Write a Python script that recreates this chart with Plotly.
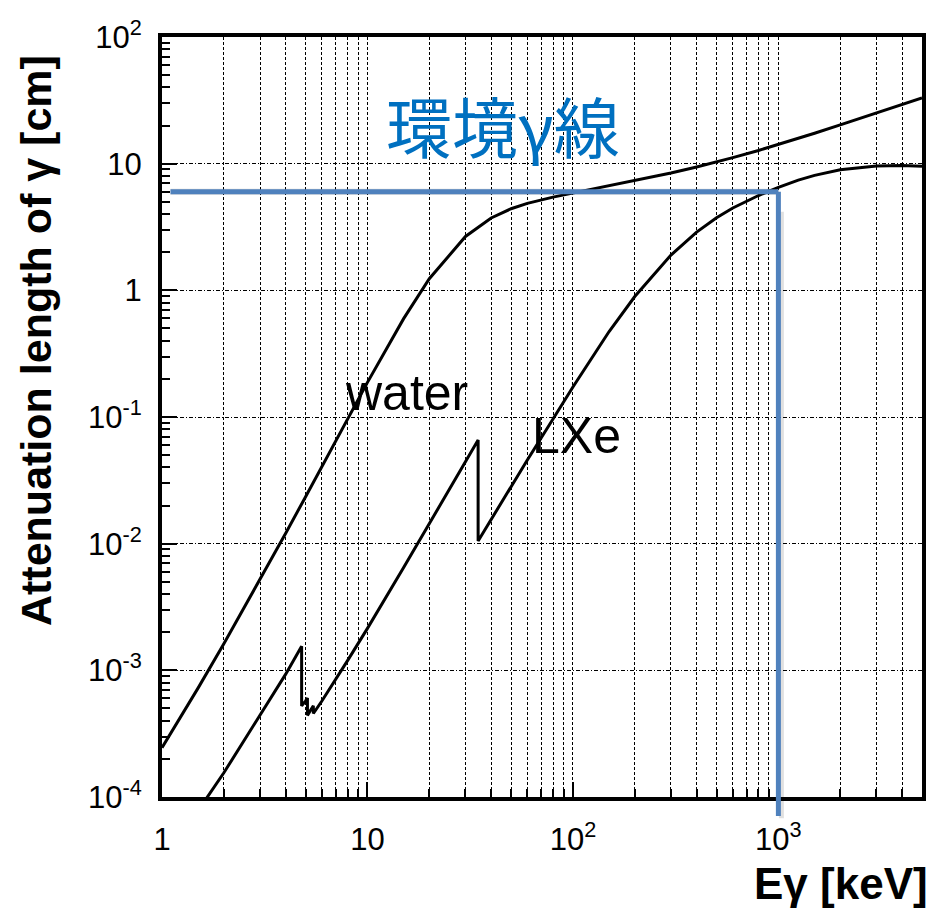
import plotly.graph_objects as go

# ---- data (attenuation length in cm) ----
water_E = [1.0, 1.5, 2.0, 3.0, 4.0, 5.0, 6.0, 8.0, 10, 15, 20, 30, 40, 50, 60, 80,
           100, 150, 200, 300, 400, 500, 600, 800, 1000, 1250, 1500, 2000, 3000, 4000, 5000]
water_L = [2.452e-4, 7.27e-4, 1.620e-3, 5.18e-3, 0.01208, 0.02349, 0.04058, 0.09643,
           0.1877, 0.5977, 1.235, 2.662, 3.727, 4.407, 4.857, 5.444,
           5.858, 6.645, 7.299, 8.432, 9.425, 10.32, 11.17, 12.71, 14.14, 15.82,
           17.38, 20.23, 25.20, 29.39, 32.99]

lxe_E = [1.0, 1.5, 2.0, 3.0, 4.0, 4.782, 4.782, 5.0, 5.104, 5.104, 5.278, 5.453, 5.453,
         6.0, 8.0, 10, 15, 20, 30, 34.56, 34.56, 40, 50, 60, 80, 100, 150, 200, 300,
         400, 500, 600, 800, 1000, 1250, 1500, 2000, 3000, 4000, 5000]
lxe_L = [3.61e-5, 7.82e-5, 1.553e-4, 4.37e-4, 9.33e-4, 1.546e-3, 5.24e-4, 5.74e-4,
         6.04e-4, 4.41e-4, 4.81e-4, 5.26e-4, 4.56e-4, 5.73e-4, 1.193e-3, 2.145e-3,
         6.48e-3, 0.01436, 0.0441, 0.0657, 0.01051, 0.01554, 0.0283, 0.0458, 0.0963,
         0.1725, 0.4727, 0.893, 1.897, 2.883, 3.746, 4.47, 5.605, 6.51, 7.42, 8.09,
         8.95, 9.60, 9.67, 9.54]

# marker lines (blue): 1 MeV gamma -> ~6 cm in LXe
mark_E = 1000
mark_L = 6.0
mark_E_start = 1.1

x_tickvals = [1, 10, 100, 1000]
x_ticktext = ["1", "10", "10<sup>2</sup>", "10<sup>3</sup>"]
y_tickvals = [1e-4, 1e-3, 1e-2, 1e-1, 1, 10, 100]
y_ticktext = ["10<sup>-4</sup>", "10<sup>-3</sup>", "10<sup>-2</sup>", "10<sup>-1</sup>",
              "1", "10", "10<sup>2</sup>"]

x_minor = [m * 10 ** k for k in range(0, 4) for m in range(2, 10)]
y_minor = [m * 10.0 ** k for k in range(-4, 2) for m in range(2, 10)]

FONT = "Liberation Sans, Arial, sans-serif"
BLUE = "#4F81BD"

fig = go.Figure()
fig.add_trace(go.Scatter(x=water_E, y=water_L, mode="lines",
                         line=dict(color="black", width=3), showlegend=False))
fig.add_trace(go.Scatter(x=lxe_E, y=lxe_L, mode="lines",
                         line=dict(color="black", width=3), showlegend=False))

# shadows
fig.add_shape(type="line", xref="x", yref="y", x0=mark_E_start, x1=mark_E,
              ysizemode="pixel", yanchor=mark_L, y0=-4, y1=-4,
              line=dict(color="rgba(0,0,0,0.15)", width=6), layer="above")
fig.add_shape(type="line", xref="x", yref="paper", y0=-0.028, y1=0.77,
              xsizemode="pixel", xanchor=mark_E, x0=3, x1=3,
              line=dict(color="rgba(0,0,0,0.12)", width=5), layer="above")
# blue lines
fig.add_shape(type="line", xref="x", yref="y", x0=mark_E_start, x1=mark_E,
              y0=mark_L, y1=mark_L, line=dict(color=BLUE, width=5), layer="above")
fig.add_shape(type="line", xref="x", yref="y", x0=mark_E, x1=mark_E,
              y0=mark_L, y1=1e-4, line=dict(color=BLUE, width=5), layer="above")
fig.add_shape(type="line", xref="x", yref="paper", x0=mark_E, x1=mark_E,
              y0=0, y1=-0.025, line=dict(color=BLUE, width=5), layer="above")

fig.update_layout(
    width=939, height=910,
    margin=dict(l=162, r=17, t=37, b=113),
    paper_bgcolor="white", plot_bgcolor="white",
    font=dict(family=FONT, color="black"),
    showlegend=False,
)

fig.update_xaxes(
    type="log", range=[0, 3.69897],
    tickmode="array", tickvals=x_tickvals, ticktext=x_ticktext,
    tickfont=dict(size=31, family=FONT),
    ticks="inside", ticklen=15, tickwidth=1.5, tickcolor="black",
    showline=True, linewidth=4, linecolor="black", mirror=True,
    showgrid=True, gridcolor="black", gridwidth=1, griddash="3px,2px",
    ticklabelstandoff=12,
    minor=dict(tickmode="array", tickvals=x_minor, ticks="inside", ticklen=8,
               tickwidth=1.5, tickcolor="black", showgrid=True,
               gridcolor="black", gridwidth=1, griddash="3px,2px"),
    zeroline=False,
)
fig.update_yaxes(
    type="log", range=[-4, 2],
    tickmode="array", tickvals=y_tickvals, ticktext=y_ticktext,
    tickfont=dict(size=31, family=FONT),
    ticks="inside", ticklen=15, tickwidth=1.5, tickcolor="black",
    showline=True, linewidth=4, linecolor="black", mirror=True,
    showgrid=True, gridcolor="black", gridwidth=1, griddash="4px,2px,1px,2px",
    ticklabelstandoff=10,
    minor=dict(tickmode="array", tickvals=y_minor, ticks="inside", ticklen=8,
               tickwidth=1.5, tickcolor="black", showgrid=False),
    zeroline=False,
)

# labels
fig.add_annotation(x=1.661, y=1.313, xref="x", yref="y", text="環境γ線", showarrow=False,
                   font=dict(family="Noto Sans CJK JP", size=66, color="#0070C0"))
fig.add_annotation(x=1.188, y=-0.81, xref="x", yref="y", text="water", showarrow=False,
                   font=dict(family=FONT, size=50, color="black"))
fig.add_annotation(x=2.017, y=-1.149, xref="x", yref="y", text="LXe", showarrow=False,
                   font=dict(family=FONT, size=50, color="black"))
fig.add_annotation(x=1, y=0, xref="paper", yref="paper", xanchor="right", yanchor="top",
                   xshift=8, yshift=-60, text="<b>Eγ [keV]</b>", showarrow=False,
                   font=dict(family=FONT, size=44, color="black"))
fig.add_annotation(x=0, y=0.6, xref="paper", yref="paper", xanchor="center", yanchor="middle",
                   xshift=-126, textangle=-90, text="<b>Attenuation length of γ [cm]</b>",
                   showarrow=False, font=dict(family=FONT, size=43, color="black"))

fig.write_html("out.html")
